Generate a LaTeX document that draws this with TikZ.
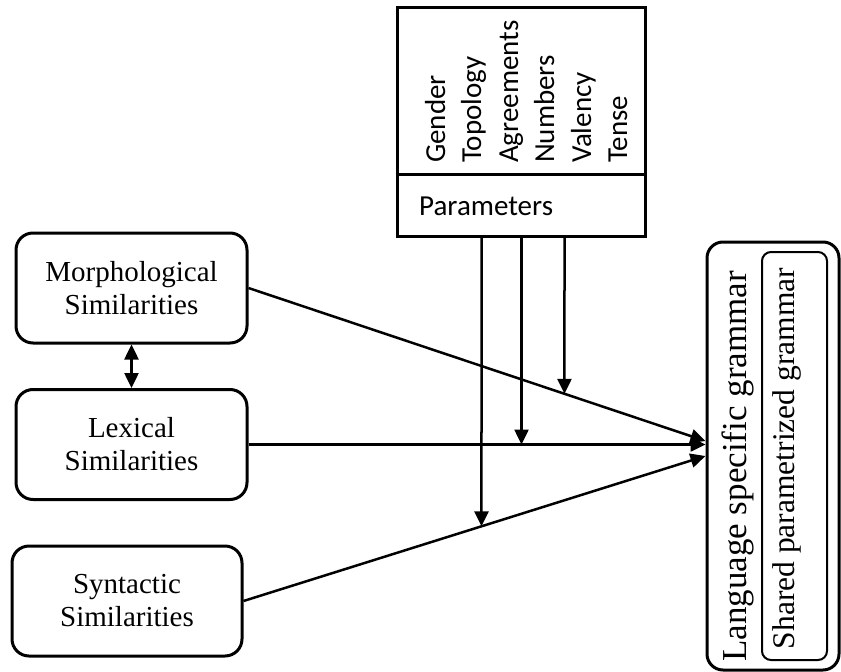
\documentclass[tikz,border=0pt]{standalone}
\usepackage{fontspec}
\setmainfont{Liberation Serif}
\newfontfamily\paramfont{Carlito}
\usetikzlibrary{arrows.meta}
\begin{document}
\begin{tikzpicture}[x=1pt,y=-1pt,
  simbox/.style={draw, line width=3pt, rounded corners=17pt,
    minimum width=231pt, minimum height=110pt, inner sep=0pt,
    align=center, font=\fontsize{29}{33}\selectfont},
  tip/.tip={Triangle[length=15pt,width=14pt]},
  conn/.style={line width=2.5pt, -tip},
  dblconn/.style={line width=2.5pt, tip-tip},
  paramitem/.style={rotate=90, anchor=base west, inner sep=0pt,
    font=\paramfont\fontsize{29}{35}\selectfont}]
\useasboundingbox (0,0) rectangle (841,672);

% similarity sources
\node[simbox] (morph) at (131.5,288) {Morphological\\Similarities};
\node[simbox] (lex) at (131.5,444.5) {Lexical\\Similarities};
\node[simbox, minimum width=230pt] (syn) at (127,601) {Syntactic\\Similarities};

% target grammar
\node[draw, line width=3pt, rounded corners=16pt,
  minimum width=132pt, minimum height=428pt, inner sep=0pt] (lang) at (773,456) {};
\node[draw, line width=2pt, rounded corners=9pt,
  minimum width=65pt, minimum height=408pt, inner sep=0pt] (shared) at (794.5,456) {};
\node[rotate=90, inner sep=0pt, font=\fontsize{35}{40}\selectfont]
  (langtxt) at (738,466.5) {Language specific grammar};
\node[rotate=90, inner sep=0pt, font=\fontsize{31.5}{36}\selectfont]
  (sharedtxt) at (787,458.5) {Shared parametrized grammar};

% parameter table
\node[draw, line width=3pt, minimum width=248pt, minimum height=229pt,
  inner sep=0pt] (params) at (521,121.5) {};
\coordinate (divL) at (params.west |- 0,174);
\coordinate (divR) at (params.east |- 0,174);
\draw[line width=3pt] (divL) -- (divR);
\node[anchor=base west, inner sep=0pt, font=\paramfont\fontsize{29}{35}\selectfont]
  (plabel) at (419,215) {Parameters};
\foreach \name/\x [count=\i] in {Gender/445, Topology/481, Agreements/518,
    Numbers/554, Valency/591, Tense/627}
  \node[paramitem] (p\i) at (\x,163) {\name};

% arrow ends on the grammar box
\coordinate (inM) at ([yshift=15pt]lang.west);
\coordinate (inL) at (lang.west |- lex.east);
\coordinate (inS) at (lang.west);
\coordinate (mE) at (morph.east);
\coordinate (lE) at (lex.east);
\coordinate (sE) at (syn.east);

\draw[conn] (morph.east) -- (inM);
\draw[conn] (lex.east) -- (inL);
\draw[conn] (syn.east) -- (inS);
\draw[dblconn] (morph.south) -- (lex.north);

% parameter influences
\coordinate (v1) at ([xshift=86pt]params.south west);
\coordinate (v2) at ([xshift=126pt]params.south west);
\coordinate (v3) at ([xshift=169pt]params.south west);
\coordinate (v1b) at ([yshift=-400pt]v1);
\coordinate (v2b) at ([yshift=-400pt]v2);
\coordinate (v3b) at ([yshift=-400pt]v3);
\draw[conn] (v1) -- (intersection of v1--v1b and sE--inS);
\draw[conn] (v2) -- (intersection of v2--v2b and lE--inL);
\draw[conn] (v3) -- (intersection of v3--v3b and mE--inM);
\end{tikzpicture}
\end{document}
